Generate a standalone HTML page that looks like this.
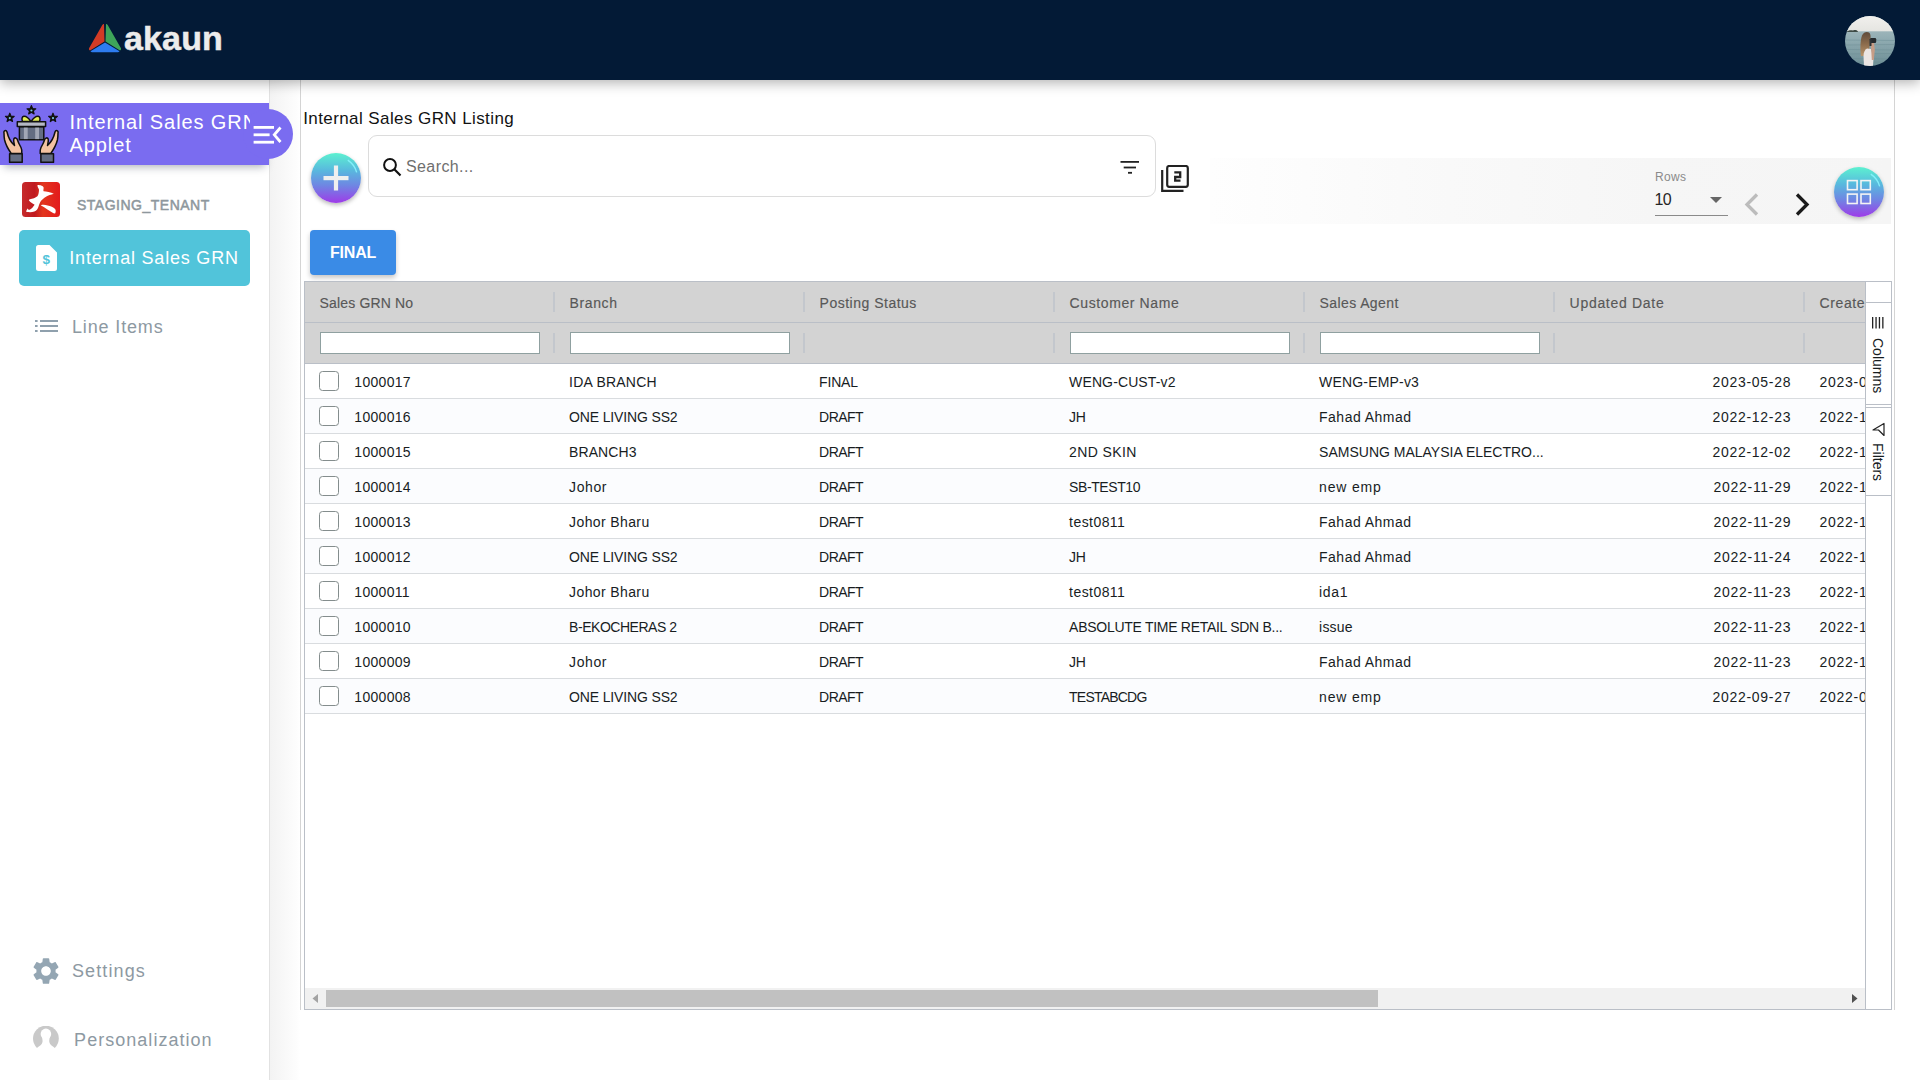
<!DOCTYPE html>
<html><head><meta charset="utf-8"><title>Internal Sales GRN Listing</title>
<style>
*{box-sizing:border-box;margin:0;padding:0}
html,body{width:1920px;height:1080px;overflow:hidden;background:#fff;font-family:"Liberation Sans", Arial, sans-serif}
.t{position:absolute;line-height:1;white-space:nowrap}
.a{position:absolute}
</style></head><body>
<div class="a" style="left:270px;top:80px;width:30px;height:1000px;background:linear-gradient(to right,#f3f3f3,#fdfdfd 90%,#fff)"></div>
<div class="a" style="left:300px;top:80px;width:1px;height:930px;background:#d4d4d4"></div>
<div class="a" style="left:1894px;top:80px;width:1px;height:930px;background:#d4d4d4"></div>
<div class="a" style="left:0;top:80px;width:269px;height:1000px;background:#fff"></div>
<div class="a" style="left:269px;top:80px;width:1px;height:1000px;background:#e2e2e2"></div>
<div class="a" style="left:0;top:103px;width:269px;height:62px;background:#7a6cf0;box-shadow:0 6px 8px -4px rgba(30,40,60,0.35)"></div>
<div class="a" style="left:243px;top:109px;width:50px;height:50px;border-radius:50%;background:#7a6cf0"></div>
<svg class="a" style="left:250px;top:122px" width="36" height="26" viewBox="0 0 36 26">
<rect x="3.6" y="4" width="20.4" height="2.8" fill="#fff"/>
<rect x="3.6" y="11.4" width="16" height="2.8" fill="#fff"/>
<rect x="3.6" y="18.8" width="20.4" height="2.8" fill="#fff"/>
<polyline points="30.5,5.5 24.3,12.8 30.5,20" fill="none" stroke="#fff" stroke-width="2.8"/>
</svg>
<div class="a" style="left:0;top:103px;width:250px;height:62px;overflow:hidden"><div class="t" style="left:69.5px;font-size:20px;color:#fff;letter-spacing:0.9px;line-height:23.3px;top:8.15px">Internal Sales GRN<br>Applet</div></div>
<svg class="a" style="left:2px;top:105px" width="58" height="58" viewBox="0 0 58 58">
<path d="M29.40,0.60 L30.58,3.58 L33.77,3.78 L31.30,5.82 L32.10,8.92 L29.40,7.20 L26.70,8.92 L27.50,5.82 L25.03,3.78 L28.22,3.58Z" fill="#111" stroke="#111" stroke-width="1.2" stroke-linejoin="round"/><circle cx="29.4" cy="5.5" r="1.1" fill="#7cc8e4"/><path d="M7.80,8.20 L8.98,11.18 L12.17,11.38 L9.70,13.42 L10.50,16.52 L7.80,14.80 L5.10,16.52 L5.90,13.42 L3.43,11.38 L6.62,11.18Z" fill="#111" stroke="#111" stroke-width="1.2" stroke-linejoin="round"/><circle cx="7.8" cy="13.100000000000001" r="1.1" fill="#7cc8e4"/><path d="M51.00,8.20 L52.18,11.18 L55.37,11.38 L52.90,13.42 L53.70,16.52 L51.00,14.80 L48.30,16.52 L49.10,13.42 L46.63,11.38 L49.82,11.18Z" fill="#111" stroke="#111" stroke-width="1.2" stroke-linejoin="round"/><circle cx="51" cy="13.100000000000001" r="1.1" fill="#7cc8e4"/>
<g stroke="#111" stroke-width="1.5" stroke-linejoin="round">
<path d="M29,16.6 C27,13.5 24.5,11 21.8,11.2 C19.8,11.5 19.6,14 20.5,16.6Z" fill="#e2ec55"/>
<path d="M29,16.6 C31,13.5 33.5,11 36.2,11.2 C38.2,11.5 38.4,14 37.5,16.6Z" fill="#e2ec55"/>
<rect x="17.4" y="21.8" width="24.4" height="13" fill="#646d82"/>
<rect x="15.3" y="16.8" width="28.3" height="4.6" fill="#b5b8c4"/>
</g>
<rect x="21.9" y="22.6" width="3.8" height="11.5" fill="#a2a7b6"/>
<rect x="33.2" y="22.6" width="3.8" height="11.5" fill="#a2a7b6"/>
<g stroke="#111" stroke-width="1.5" stroke-linejoin="round">
<path d="M2,28 C1.2,25.5 4.2,24.6 5,27 C6,31.5 8.5,37 12.5,40.5 C12,38 11.3,35.5 11.8,34 C12.4,32.3 14.8,32.6 15.3,34.5 C16,37 17,39 19,42.5 C20,44.5 20,46.5 19.8,48.5 L9.2,48.5 C7.5,46 4,41 2.6,35 C2.1,32.5 2,30 2,28Z" fill="#f4c3a1"/>
<path d="M2,28 C1.2,25.5 4.2,24.6 5,27 C6,31.5 8.5,37 12.5,40.5 C12,38 11.3,35.5 11.8,34 C12.4,32.3 14.8,32.6 15.3,34.5 C16,37 17,39 19,42.5 C20,44.5 20,46.5 19.8,48.5 L9.2,48.5 C7.5,46 4,41 2.6,35 C2.1,32.5 2,30 2,28Z" fill="#f4c3a1" transform="translate(58,0) scale(-1,1)"/>
<rect x="7.6" y="48.8" width="12.6" height="8.5" fill="#646d82"/>
<rect x="38.9" y="48.8" width="12.6" height="8.5" fill="#646d82"/>
</g>
</svg>
<svg class="a" style="left:22px;top:182px" width="38" height="35" viewBox="0 0 38 35">
<defs><linearGradient id="rg" x1="0" y1="0" x2="1" y2="0"><stop offset="0" stop-color="#c62b2c"/><stop offset="0.33" stop-color="#c0191f"/><stop offset="0.55" stop-color="#e2361e"/><stop offset="1" stop-color="#e31a1c"/></linearGradient></defs>
<rect x="0" y="0" width="38" height="35" rx="3.5" fill="url(#rg)"/>
<path d="M15.5,2.9 C18,2.8 21.5,3.6 21.6,5.6 C21.8,7 21,8.3 21.6,9.3 C24,9.6 29,10.2 31.8,11.8 C29,12.8 26,13.5 24.4,14.4 C21.5,16 19.5,18 18.3,20 C17.4,21.6 16.9,23.5 16.3,25.2 C15.7,27 14.6,28.4 12.4,29.6 C10,30.4 7,30.2 4.5,30 C4,29.4 4.2,28.6 5.7,26.6 L6.8,28 C8.6,27.4 10,26.3 10.8,25.2 C11.6,24.2 12.2,23.4 12.6,22.8 C10.5,21.5 8.2,20.4 7,18.6 C6.8,18 7,17.6 8,17.3 C10.5,16.8 13.6,16 15.4,14.3 C16.6,12.6 16.9,10.4 17,7.8 C16.9,6.3 15.2,5 15.5,2.9Z" fill="#fff"/>
<path d="M18.7,23.2 C20.8,22.6 23.3,22.8 25.6,23.4 C28.5,24.2 31.5,25 33.1,27 C33.9,28.2 34,30 33.1,31.4 C32.2,31.5 31.2,31 30.2,30.4 C28.6,29.4 27,28.6 25.4,27.4 C23.3,25.9 21,24.4 18.7,23.2Z" fill="#fff"/>
</svg>
<div class="t " style="left:77px;top:198.35px;font-size:14px;color:#8e979d;letter-spacing:0.5px;-webkit-text-stroke:0.5px #8e979d;">STAGING_TENANT</div>
<div class="a" style="left:19px;top:230px;width:231px;height:56px;border-radius:5px;background:#51c4da"></div>
<svg class="a" style="left:36px;top:245px" width="21" height="26" viewBox="0 0 21 26">
<path d="M2.5,0 H13.5 L21,7.5 V23.5 A2.5,2.5 0 0 1 18.5,26 H2.5 A2.5,2.5 0 0 1 0,23.5 V2.5 A2.5,2.5 0 0 1 2.5,0Z" fill="#fff"/>
<text x="10.3" y="18.6" font-family="Liberation Sans, sans-serif" font-weight="700" font-size="13.5" fill="#51c4da" text-anchor="middle">$</text>
</svg>
<div class="t " style="left:69.3px;top:248.76px;font-size:18px;color:#fff;letter-spacing:0.8px;">Internal Sales GRN</div>
<svg class="a" style="left:35px;top:320px" width="23" height="12" viewBox="0 0 23 12">
<g fill="#8fa0ad"><rect x="0" y="0" width="2.6" height="2"/><rect x="5" y="0" width="18" height="2"/>
<rect x="0" y="5" width="2.6" height="2"/><rect x="5" y="5" width="18" height="2"/>
<rect x="0" y="10" width="2.6" height="2"/><rect x="5" y="10" width="18" height="2"/></g>
</svg>
<div class="t " style="left:72px;top:317.86px;font-size:18px;color:#8d99a2;letter-spacing:0.85px;">Line Items</div>
<svg class="a" style="left:30.3px;top:955px" width="32" height="32" viewBox="0 0 24 24">
<path fill="#94a6b3" d="M19.14,12.94c0.04-0.3,0.06-0.61,0.06-0.94c0-0.32-0.02-0.64-0.07-0.94l2.03-1.58c0.18-0.14,0.23-0.41,0.12-0.61 l-1.92-3.32c-0.12-0.22-0.37-0.29-0.59-0.22l-2.39,0.96c-0.5-0.38-1.03-0.7-1.62-0.94L14.4,2.81c-0.04-0.24-0.24-0.41-0.48-0.41 h-3.84c-0.24,0-0.43,0.17-0.47,0.41L9.25,5.35C8.66,5.59,8.12,5.92,7.63,6.29L5.24,5.33c-0.22-0.08-0.47,0-0.59,0.22L2.74,8.87 C2.62,9.08,2.66,9.34,2.86,9.48l2.03,1.58C4.84,11.36,4.8,11.69,4.8,12s0.02,0.64,0.07,0.94l-2.03,1.58 c-0.18,0.14-0.23,0.41-0.12,0.61l1.92,3.32c0.12,0.22,0.37,0.29,0.59,0.22l2.39-0.96c0.5,0.38,1.03,0.7,1.62,0.94l0.36,2.54 c0.05,0.24,0.24,0.41,0.48,0.41h3.84c0.24,0,0.44-0.17,0.47-0.41l0.36-2.54c0.59-0.24,1.13-0.56,1.62-0.94l2.39,0.96 c0.22,0.08,0.47,0,0.59-0.22l1.92-3.32c0.12-0.22,0.07-0.47-0.12-0.61L19.14,12.94z M12,15.6c-1.98,0-3.6-1.62-3.6-3.6 s1.62-3.6,3.6-3.6s3.6,1.62,3.6,3.6S13.98,15.6,12,15.6z"/>
</svg>
<div class="t " style="left:72px;top:962.06px;font-size:18px;color:#8d99a2;letter-spacing:1.1px;">Settings</div>
<svg class="a" style="left:33px;top:1026px" width="26" height="27" viewBox="0 0 26 27">
<circle cx="12.9" cy="12.6" r="12.9" fill="#c9c9c9"/>
<circle cx="12.9" cy="7.9" r="5.3" fill="#fff"/>
<path d="M3.6,22.2 C6,20.4 9,18.8 9.5,16 C9.7,14 9.3,12.8 9,11 L16.8,11 C16.5,12.8 16.1,14 16.3,16 C16.8,18.8 19.8,20.4 22.2,22.2 L22.2,27 L3.6,27Z" fill="#fff"/>
</svg>
<div class="t " style="left:74.1px;top:1030.86px;font-size:18px;color:#8d99a2;letter-spacing:1.03px;">Personalization</div>
<div class="a" style="left:0;top:0;width:1920px;height:80px;background:#031a36;box-shadow:0 3px 12px rgba(0,0,0,0.30);z-index:5"></div>
<svg class="a" style="left:88px;top:23px;z-index:6" width="34" height="30" viewBox="0 0 34 30">
<path d="M16,1 L16.5,18.5 L2,27.5 C1,27 0.6,26 1.2,25 L14,2.5 C14.5,1.5 15.3,1 16,1Z" fill="#d23b25"/>
<path d="M18,1 L17.5,18.5 L32,27.5 C33,27 33.4,26 32.8,25 L20,2.5 C19.5,1.5 18.7,1 18,1Z" fill="#3ea559"/>
<path d="M17,19.5 L31.5,28.2 C31,29 30.2,29.3 29.5,29.3 L4.5,29.3 C3.8,29.3 3,29 2.5,28.2Z" fill="#2e7cf0"/>
</svg>
<div class="t" style="left:124px;top:21.02px;font-size:34px;font-weight:700;color:#ececec;letter-spacing:0.15px;-webkit-text-stroke:0.5px #ececec;z-index:6">akaun</div>
<svg class="a" style="left:1845px;top:16px;z-index:6" width="50" height="50" viewBox="0 0 50 50">
<defs><clipPath id="av"><circle cx="25" cy="25" r="25"/></clipPath>
<linearGradient id="sea" x1="0" y1="0" x2="0" y2="1"><stop offset="0" stop-color="#b2c4c8"/><stop offset="0.5" stop-color="#8eaab0"/><stop offset="1" stop-color="#6d8e95"/></linearGradient>
<linearGradient id="sky" x1="0" y1="0" x2="0" y2="1"><stop offset="0" stop-color="#f1f0ed"/><stop offset="1" stop-color="#e5e5e1"/></linearGradient>
<linearGradient id="hair" x1="0" y1="0" x2="0" y2="1"><stop offset="0" stop-color="#5e4a3a"/><stop offset="0.5" stop-color="#8c6c4c"/><stop offset="1" stop-color="#b8946a"/></linearGradient></defs>
<g clip-path="url(#av)">
<rect width="50" height="50" fill="url(#sea)"/>
<g stroke="#6a8a92" stroke-width="0.8" opacity="0.55"><line x1="0" y1="24" x2="50" y2="24.5"/><line x1="0" y1="29" x2="50" y2="28.5"/><line x1="0" y1="33.5" x2="50" y2="34"/><line x1="0" y1="38" x2="50" y2="37.5"/><line x1="0" y1="42.5" x2="50" y2="43"/><line x1="0" y1="46.5" x2="50" y2="46"/></g>
<rect width="50" height="15.3" fill="url(#sky)"/>
<path d="M1.5,16 C3,14.2 6,13.8 8,14.5 C10,13.6 12.5,14 13,16Z" fill="#3e4b46"/>
<path d="M16,40 C15,34 15.2,24 17,19.5 C18.5,16 22,15.2 24,16.5 C25.5,17.5 25.8,20 25.5,23 L24.5,31 L23,40Z" fill="url(#hair)"/>
<path d="M19,50 L18.5,40 C18.5,36 20,33.5 22,32.5 L26,33 L28.5,42 L28,50Z" fill="#ebe5e3"/>
<path d="M25.5,26.5 L29,26 L29.8,34 L28.8,44 L26.8,44 L26.2,34Z" fill="#c79d86"/>
<rect x="25" y="22" width="6.2" height="5" rx="1.2" fill="#262b2e"/>
<rect x="24.5" y="23" width="2" height="7" fill="#2f3436"/>
</g></svg>
<div class="t " style="left:303.2px;top:109.86px;font-size:17px;color:#121212;letter-spacing:0.41px;">Internal Sales GRN Listing</div>
<div class="a" style="left:311px;top:153px;width:50px;height:50px;border-radius:50%;background:linear-gradient(to bottom,#5cf1d0 0%,#59b8de 35%,#6f86e3 65%,#9e3be8 100%);box-shadow:0 2px 4px rgba(0,0,0,0.28)"></div>
<svg class="a" style="left:311px;top:153px" width="50" height="50" viewBox="0 0 50 50">
<rect x="12.5" y="23" width="25" height="4.2" fill="#efefef"/><rect x="22.9" y="12.5" width="4.2" height="25" fill="#efefef"/>
<path d="M36.8,7.1 A21.4,21.4 0 0 1 45.7,19.4" fill="none" stroke="rgba(140,245,255,0.85)" stroke-width="1.4"/>
</svg>
<div class="a" style="left:368px;top:135px;width:788px;height:62px;border:1px solid #dcdcdc;border-radius:9px;background:#fff"></div>
<svg class="a" style="left:382px;top:157px" width="21" height="21" viewBox="0 0 21 21">
<circle cx="8" cy="8" r="5.9" fill="none" stroke="#111" stroke-width="2"/>
<line x1="12.3" y1="12.3" x2="18.5" y2="18.5" stroke="#111" stroke-width="2.2"/>
</svg>
<div class="t " style="left:406px;top:159.26px;font-size:16px;color:#6f6f6f;letter-spacing:0.4px;">Search...</div>
<svg class="a" style="left:1120px;top:160px" width="20" height="15" viewBox="0 0 20 15">
<rect x="0.5" y="1" width="18.5" height="1.8" fill="#222"/><rect x="3.7" y="6.6" width="12.3" height="1.8" fill="#222"/><rect x="8" y="11.9" width="4" height="1.8" fill="#222"/>
</svg>
<svg class="a" style="left:1161px;top:165px" width="28" height="28" viewBox="0 0 28 28">
<path d="M1.2,5 V25.8 H22.5" fill="none" stroke="#222" stroke-width="2.2"/>
<rect x="6.2" y="1" width="20.6" height="20.8" rx="2" fill="none" stroke="#222" stroke-width="2.2"/>
<path d="M13.3,7.3 H19.2 V12 H14.2 V15.6 H19.5" fill="none" stroke="#222" stroke-width="2.3"/>
</svg>
<div class="a" style="left:1210px;top:158px;width:681px;height:66px;background:linear-gradient(to right,#fefefe,#f9f9f9 35%,#f6f6f6 65%,#f5f5f5)"></div>
<div class="t " style="left:1655px;top:170.64px;font-size:12px;color:#8a8a8a;letter-spacing:0.3px;">Rows</div>
<div class="t " style="left:1654.5px;top:191.96px;font-size:16px;color:#262626;letter-spacing:-0.6px;">10</div>
<svg class="a" style="left:1709px;top:196px" width="14" height="8" viewBox="0 0 14 8"><path d="M1,1 H13 L7,7Z" fill="#666"/></svg>
<div class="a" style="left:1655px;top:215px;width:73px;height:1px;background:#8a8a8a"></div>
<svg class="a" style="left:1742px;top:192px" width="20" height="26" viewBox="0 0 20 26"><polyline points="15,2.5 5,12.5 15,22.5" fill="none" stroke="#bcbcbc" stroke-width="3.3"/></svg>
<svg class="a" style="left:1792px;top:192px" width="20" height="26" viewBox="0 0 20 26"><polyline points="5,2.5 15,12.5 5,22.5" fill="none" stroke="#1a1a1a" stroke-width="3.3"/></svg>
<div class="a" style="left:1834px;top:167px;width:50px;height:50px;border-radius:50%;background:linear-gradient(to bottom,#5cf1d0 0%,#59b8de 35%,#6f86e3 65%,#9e3be8 100%);box-shadow:0 2px 4px rgba(0,0,0,0.25)"></div>
<svg class="a" style="left:1834px;top:167px" width="50" height="50" viewBox="0 0 50 50">
<g fill="none" stroke="#f4f4f4" stroke-width="1.6"><rect x="13.5" y="13.6" width="9.6" height="9.1"/><rect x="27" y="13.6" width="9.3" height="9.1"/><rect x="13.5" y="27.1" width="9.6" height="9.4"/><rect x="27" y="27.1" width="9.3" height="9.4"/></g>
<path d="M36.8,7.1 A21.4,21.4 0 0 1 45.7,19.4" fill="none" stroke="rgba(140,245,255,0.85)" stroke-width="1.4"/>
</svg>
<div class="a" style="left:310px;top:230px;width:86px;height:45px;border-radius:4px;background:#3a8be6;box-shadow:0 3px 5px rgba(0,0,0,0.22)"></div>
<div class="t " style="left:330px;top:245.21px;font-size:16px;color:#fff;font-weight:700;letter-spacing:-0.2px;">FINAL</div>
<div class="a" style="left:304px;top:281px;width:1588px;height:729px;border:1px solid #babfc7;background:#fff"></div>
<div class="a" style="left:305px;top:282px;width:1560px;height:81px;background:#d3d3d3"></div>
<div class="a" style="left:305px;top:322px;width:1560px;height:1px;background:#babfc7"></div>
<div class="a" style="left:305px;top:363px;width:1560px;height:1px;background:#babfc7"></div>
<div class="a" style="left:305px;top:282px;width:1560px;height:728px;overflow:hidden">
<div class="t " style="left:14.6px;top:14.25px;font-size:14px;color:#585858;letter-spacing:0.15px;-webkit-text-stroke:0.15px #585858;">Sales GRN No</div>
<div class="a" style="left:248px;top:10px;width:2px;height:20px;background:#c3c7cd"></div><div class="a" style="left:248px;top:51px;width:2px;height:20px;background:#c3c7cd"></div>
<div class="a" style="left:15px;top:50px;width:220px;height:22px;border:1px solid #8fa0a0;background:#fff"></div>
<div class="t " style="left:264.6px;top:14.25px;font-size:14px;color:#585858;letter-spacing:0.6px;-webkit-text-stroke:0.15px #585858;">Branch</div>
<div class="a" style="left:498px;top:10px;width:2px;height:20px;background:#c3c7cd"></div><div class="a" style="left:498px;top:51px;width:2px;height:20px;background:#c3c7cd"></div>
<div class="a" style="left:265px;top:50px;width:220px;height:22px;border:1px solid #8fa0a0;background:#fff"></div>
<div class="t " style="left:514.6px;top:14.25px;font-size:14px;color:#585858;letter-spacing:0.5px;-webkit-text-stroke:0.15px #585858;">Posting Status</div>
<div class="a" style="left:748px;top:10px;width:2px;height:20px;background:#c3c7cd"></div><div class="a" style="left:748px;top:51px;width:2px;height:20px;background:#c3c7cd"></div>
<div class="t " style="left:764.6px;top:14.25px;font-size:14px;color:#585858;letter-spacing:0.6px;-webkit-text-stroke:0.15px #585858;">Customer Name</div>
<div class="a" style="left:998px;top:10px;width:2px;height:20px;background:#c3c7cd"></div><div class="a" style="left:998px;top:51px;width:2px;height:20px;background:#c3c7cd"></div>
<div class="a" style="left:765px;top:50px;width:220px;height:22px;border:1px solid #8fa0a0;background:#fff"></div>
<div class="t " style="left:1014.6px;top:14.25px;font-size:14px;color:#585858;letter-spacing:0.4px;-webkit-text-stroke:0.15px #585858;">Sales Agent</div>
<div class="a" style="left:1248px;top:10px;width:2px;height:20px;background:#c3c7cd"></div><div class="a" style="left:1248px;top:51px;width:2px;height:20px;background:#c3c7cd"></div>
<div class="a" style="left:1015px;top:50px;width:220px;height:22px;border:1px solid #8fa0a0;background:#fff"></div>
<div class="t " style="left:1264.6px;top:14.25px;font-size:14px;color:#585858;letter-spacing:0.7px;-webkit-text-stroke:0.15px #585858;">Updated Date</div>
<div class="a" style="left:1498px;top:10px;width:2px;height:20px;background:#c3c7cd"></div><div class="a" style="left:1498px;top:51px;width:2px;height:20px;background:#c3c7cd"></div>
<div class="t " style="left:1514.6px;top:14.25px;font-size:14px;color:#585858;letter-spacing:0.6px;-webkit-text-stroke:0.15px #585858;">Created Date</div>
<div class="a" style="left:0;top:82px;width:1560px;height:34px;background:#fff"></div><div class="a" style="left:0;top:116px;width:1560px;height:1px;background:#d9dcdf"></div>
<div class="a" style="left:14px;top:89px;width:20px;height:20px;border:1.6px solid #848d8d;border-radius:3.5px;background:#fff"></div><div class="t " style="left:49.3px;top:92.95px;font-size:14px;color:#181d1f;letter-spacing:0.3px;">1000017</div>
<div class="t " style="left:264.1px;top:92.95px;font-size:14px;color:#181d1f;letter-spacing:0.22px;">IDA BRANCH</div>
<div class="t " style="left:514.1px;top:92.95px;font-size:14px;color:#181d1f;letter-spacing:-0.18px;">FINAL</div>
<div class="t " style="left:764.1px;top:92.95px;font-size:14px;color:#181d1f;letter-spacing:0.12px;">WENG-CUST-v2</div>
<div class="t " style="left:1014.1px;top:92.95px;font-size:14px;color:#181d1f;letter-spacing:0.18px;">WENG-EMP-v3</div>
<div class="t" style="left:1250px;width:236.3px;text-align:right;top:92.95px;font-size:14px;color:#181d1f;letter-spacing:0.73px">2023-05-28</div><div class="t " style="left:1514.5px;top:92.95px;font-size:14px;color:#181d1f;letter-spacing:0.73px;">2023-0</div>

<div class="a" style="left:0;top:117px;width:1560px;height:34px;background:#fbfcfe"></div><div class="a" style="left:0;top:151px;width:1560px;height:1px;background:#d9dcdf"></div>
<div class="a" style="left:14px;top:124px;width:20px;height:20px;border:1.6px solid #848d8d;border-radius:3.5px;background:#fff"></div><div class="t " style="left:49.3px;top:127.95px;font-size:14px;color:#181d1f;letter-spacing:0.3px;">1000016</div>
<div class="t " style="left:264.1px;top:127.95px;font-size:14px;color:#181d1f;letter-spacing:-0.15px;">ONE LIVING SS2</div>
<div class="t " style="left:514.1px;top:127.95px;font-size:14px;color:#181d1f;letter-spacing:-0.55px;">DRAFT</div>
<div class="t " style="left:764.1px;top:127.95px;font-size:14px;color:#181d1f;letter-spacing:-0.4px;">JH</div>
<div class="t " style="left:1014.1px;top:127.95px;font-size:14px;color:#181d1f;letter-spacing:0.47px;">Fahad Ahmad</div>
<div class="t" style="left:1250px;width:236.3px;text-align:right;top:127.95px;font-size:14px;color:#181d1f;letter-spacing:0.73px">2022-12-23</div><div class="t " style="left:1514.5px;top:127.95px;font-size:14px;color:#181d1f;letter-spacing:0.73px;">2022-1</div>

<div class="a" style="left:0;top:152px;width:1560px;height:34px;background:#fff"></div><div class="a" style="left:0;top:186px;width:1560px;height:1px;background:#d9dcdf"></div>
<div class="a" style="left:14px;top:159px;width:20px;height:20px;border:1.6px solid #848d8d;border-radius:3.5px;background:#fff"></div><div class="t " style="left:49.3px;top:162.95px;font-size:14px;color:#181d1f;letter-spacing:0.3px;">1000015</div>
<div class="t " style="left:264.1px;top:162.95px;font-size:14px;color:#181d1f;letter-spacing:0.08px;">BRANCH3</div>
<div class="t " style="left:514.1px;top:162.95px;font-size:14px;color:#181d1f;letter-spacing:-0.55px;">DRAFT</div>
<div class="t " style="left:764.1px;top:162.95px;font-size:14px;color:#181d1f;letter-spacing:0.4px;">2ND SKIN</div>
<div class="t " style="left:1014.1px;top:162.95px;font-size:14px;color:#181d1f;letter-spacing:0.0px;">SAMSUNG MALAYSIA ELECTRO...</div>
<div class="t" style="left:1250px;width:236.3px;text-align:right;top:162.95px;font-size:14px;color:#181d1f;letter-spacing:0.73px">2022-12-02</div><div class="t " style="left:1514.5px;top:162.95px;font-size:14px;color:#181d1f;letter-spacing:0.73px;">2022-1</div>

<div class="a" style="left:0;top:187px;width:1560px;height:34px;background:#fbfcfe"></div><div class="a" style="left:0;top:221px;width:1560px;height:1px;background:#d9dcdf"></div>
<div class="a" style="left:14px;top:194px;width:20px;height:20px;border:1.6px solid #848d8d;border-radius:3.5px;background:#fff"></div><div class="t " style="left:49.3px;top:197.95px;font-size:14px;color:#181d1f;letter-spacing:0.3px;">1000014</div>
<div class="t " style="left:264.1px;top:197.95px;font-size:14px;color:#181d1f;letter-spacing:0.57px;">Johor</div>
<div class="t " style="left:514.1px;top:197.95px;font-size:14px;color:#181d1f;letter-spacing:-0.55px;">DRAFT</div>
<div class="t " style="left:764.1px;top:197.95px;font-size:14px;color:#181d1f;letter-spacing:-0.41px;">SB-TEST10</div>
<div class="t " style="left:1014.1px;top:197.95px;font-size:14px;color:#181d1f;letter-spacing:0.82px;">new emp</div>
<div class="t" style="left:1250px;width:236.3px;text-align:right;top:197.95px;font-size:14px;color:#181d1f;letter-spacing:0.73px">2022-11-29</div><div class="t " style="left:1514.5px;top:197.95px;font-size:14px;color:#181d1f;letter-spacing:0.73px;">2022-1</div>

<div class="a" style="left:0;top:222px;width:1560px;height:34px;background:#fff"></div><div class="a" style="left:0;top:256px;width:1560px;height:1px;background:#d9dcdf"></div>
<div class="a" style="left:14px;top:229px;width:20px;height:20px;border:1.6px solid #848d8d;border-radius:3.5px;background:#fff"></div><div class="t " style="left:49.3px;top:232.95px;font-size:14px;color:#181d1f;letter-spacing:0.3px;">1000013</div>
<div class="t " style="left:264.1px;top:232.95px;font-size:14px;color:#181d1f;letter-spacing:0.38px;">Johor Bharu</div>
<div class="t " style="left:514.1px;top:232.95px;font-size:14px;color:#181d1f;letter-spacing:-0.55px;">DRAFT</div>
<div class="t " style="left:764.1px;top:232.95px;font-size:14px;color:#181d1f;letter-spacing:0.44px;">test0811</div>
<div class="t " style="left:1014.1px;top:232.95px;font-size:14px;color:#181d1f;letter-spacing:0.47px;">Fahad Ahmad</div>
<div class="t" style="left:1250px;width:236.3px;text-align:right;top:232.95px;font-size:14px;color:#181d1f;letter-spacing:0.73px">2022-11-29</div><div class="t " style="left:1514.5px;top:232.95px;font-size:14px;color:#181d1f;letter-spacing:0.73px;">2022-1</div>

<div class="a" style="left:0;top:257px;width:1560px;height:34px;background:#fbfcfe"></div><div class="a" style="left:0;top:291px;width:1560px;height:1px;background:#d9dcdf"></div>
<div class="a" style="left:14px;top:264px;width:20px;height:20px;border:1.6px solid #848d8d;border-radius:3.5px;background:#fff"></div><div class="t " style="left:49.3px;top:267.95px;font-size:14px;color:#181d1f;letter-spacing:0.3px;">1000012</div>
<div class="t " style="left:264.1px;top:267.95px;font-size:14px;color:#181d1f;letter-spacing:-0.15px;">ONE LIVING SS2</div>
<div class="t " style="left:514.1px;top:267.95px;font-size:14px;color:#181d1f;letter-spacing:-0.55px;">DRAFT</div>
<div class="t " style="left:764.1px;top:267.95px;font-size:14px;color:#181d1f;letter-spacing:-0.4px;">JH</div>
<div class="t " style="left:1014.1px;top:267.95px;font-size:14px;color:#181d1f;letter-spacing:0.47px;">Fahad Ahmad</div>
<div class="t" style="left:1250px;width:236.3px;text-align:right;top:267.95px;font-size:14px;color:#181d1f;letter-spacing:0.73px">2022-11-24</div><div class="t " style="left:1514.5px;top:267.95px;font-size:14px;color:#181d1f;letter-spacing:0.73px;">2022-1</div>

<div class="a" style="left:0;top:292px;width:1560px;height:34px;background:#fff"></div><div class="a" style="left:0;top:326px;width:1560px;height:1px;background:#d9dcdf"></div>
<div class="a" style="left:14px;top:299px;width:20px;height:20px;border:1.6px solid #848d8d;border-radius:3.5px;background:#fff"></div><div class="t " style="left:49.3px;top:302.95px;font-size:14px;color:#181d1f;letter-spacing:0.3px;">1000011</div>
<div class="t " style="left:264.1px;top:302.95px;font-size:14px;color:#181d1f;letter-spacing:0.38px;">Johor Bharu</div>
<div class="t " style="left:514.1px;top:302.95px;font-size:14px;color:#181d1f;letter-spacing:-0.55px;">DRAFT</div>
<div class="t " style="left:764.1px;top:302.95px;font-size:14px;color:#181d1f;letter-spacing:0.44px;">test0811</div>
<div class="t " style="left:1014.1px;top:302.95px;font-size:14px;color:#181d1f;letter-spacing:0.63px;">ida1</div>
<div class="t" style="left:1250px;width:236.3px;text-align:right;top:302.95px;font-size:14px;color:#181d1f;letter-spacing:0.73px">2022-11-23</div><div class="t " style="left:1514.5px;top:302.95px;font-size:14px;color:#181d1f;letter-spacing:0.73px;">2022-1</div>

<div class="a" style="left:0;top:327px;width:1560px;height:34px;background:#fbfcfe"></div><div class="a" style="left:0;top:361px;width:1560px;height:1px;background:#d9dcdf"></div>
<div class="a" style="left:14px;top:334px;width:20px;height:20px;border:1.6px solid #848d8d;border-radius:3.5px;background:#fff"></div><div class="t " style="left:49.3px;top:337.95px;font-size:14px;color:#181d1f;letter-spacing:0.3px;">1000010</div>
<div class="t " style="left:264.1px;top:337.95px;font-size:14px;color:#181d1f;letter-spacing:-0.47px;">B-EKOCHERAS 2</div>
<div class="t " style="left:514.1px;top:337.95px;font-size:14px;color:#181d1f;letter-spacing:-0.55px;">DRAFT</div>
<div class="t " style="left:764.1px;top:337.95px;font-size:14px;color:#181d1f;letter-spacing:-0.28px;">ABSOLUTE TIME RETAIL SDN B...</div>
<div class="t " style="left:1014.1px;top:337.95px;font-size:14px;color:#181d1f;letter-spacing:0.2px;">issue</div>
<div class="t" style="left:1250px;width:236.3px;text-align:right;top:337.95px;font-size:14px;color:#181d1f;letter-spacing:0.73px">2022-11-23</div><div class="t " style="left:1514.5px;top:337.95px;font-size:14px;color:#181d1f;letter-spacing:0.73px;">2022-1</div>

<div class="a" style="left:0;top:362px;width:1560px;height:34px;background:#fff"></div><div class="a" style="left:0;top:396px;width:1560px;height:1px;background:#d9dcdf"></div>
<div class="a" style="left:14px;top:369px;width:20px;height:20px;border:1.6px solid #848d8d;border-radius:3.5px;background:#fff"></div><div class="t " style="left:49.3px;top:372.95px;font-size:14px;color:#181d1f;letter-spacing:0.3px;">1000009</div>
<div class="t " style="left:264.1px;top:372.95px;font-size:14px;color:#181d1f;letter-spacing:0.57px;">Johor</div>
<div class="t " style="left:514.1px;top:372.95px;font-size:14px;color:#181d1f;letter-spacing:-0.55px;">DRAFT</div>
<div class="t " style="left:764.1px;top:372.95px;font-size:14px;color:#181d1f;letter-spacing:-0.4px;">JH</div>
<div class="t " style="left:1014.1px;top:372.95px;font-size:14px;color:#181d1f;letter-spacing:0.47px;">Fahad Ahmad</div>
<div class="t" style="left:1250px;width:236.3px;text-align:right;top:372.95px;font-size:14px;color:#181d1f;letter-spacing:0.73px">2022-11-23</div><div class="t " style="left:1514.5px;top:372.95px;font-size:14px;color:#181d1f;letter-spacing:0.73px;">2022-1</div>

<div class="a" style="left:0;top:397px;width:1560px;height:34px;background:#fbfcfe"></div><div class="a" style="left:0;top:431px;width:1560px;height:1px;background:#d9dcdf"></div>
<div class="a" style="left:14px;top:404px;width:20px;height:20px;border:1.6px solid #848d8d;border-radius:3.5px;background:#fff"></div><div class="t " style="left:49.3px;top:407.95px;font-size:14px;color:#181d1f;letter-spacing:0.3px;">1000008</div>
<div class="t " style="left:264.1px;top:407.95px;font-size:14px;color:#181d1f;letter-spacing:-0.15px;">ONE LIVING SS2</div>
<div class="t " style="left:514.1px;top:407.95px;font-size:14px;color:#181d1f;letter-spacing:-0.55px;">DRAFT</div>
<div class="t " style="left:764.1px;top:407.95px;font-size:14px;color:#181d1f;letter-spacing:-0.79px;">TESTABCDG</div>
<div class="t " style="left:1014.1px;top:407.95px;font-size:14px;color:#181d1f;letter-spacing:0.82px;">new emp</div>
<div class="t" style="left:1250px;width:236.3px;text-align:right;top:407.95px;font-size:14px;color:#181d1f;letter-spacing:0.73px">2022-09-27</div><div class="t " style="left:1514.5px;top:407.95px;font-size:14px;color:#181d1f;letter-spacing:0.73px;">2022-0</div>

</div>
<div class="a" style="left:1865px;top:282px;width:1px;height:727px;background:#babfc7"></div>
<div class="a" style="left:1866px;top:282px;width:25px;height:727px;background:#fff"></div>
<div class="a" style="left:1866px;top:302px;width:25px;height:1px;background:#babfc7"></div>
<div class="a" style="left:1866px;top:404px;width:25px;height:1px;background:#babfc7"></div>
<div class="a" style="left:1866px;top:407px;width:25px;height:1px;background:#babfc7"></div>
<div class="a" style="left:1866px;top:495px;width:25px;height:1px;background:#babfc7"></div>
<svg class="a" style="left:1870px;top:316px" width="17" height="14" viewBox="0 0 17 14">
<g fill="#222"><rect x="2" y="1" width="1.3" height="11.5"/><rect x="5.4" y="1" width="1.3" height="11.5"/><rect x="8.8" y="1" width="1.3" height="11.5"/><rect x="12.2" y="1" width="1.3" height="11.5"/></g></svg>
<div class="t" style="left:1871px;top:338px;font-size:14px;color:#181d1f;writing-mode:vertical-rl">Columns</div>
<svg class="a" style="left:1870px;top:422px" width="17" height="16" viewBox="0 0 17 16">
<path d="M2.5,2 L14.5,2 L9,7.5 L9,13 Z" fill="none" stroke="#222" stroke-width="1.2" stroke-linejoin="round" transform="rotate(90 8.5 7.5)"/></svg>
<div class="t" style="left:1871px;top:443px;font-size:14px;color:#181d1f;writing-mode:vertical-rl">Filters</div>
<div class="a" style="left:305px;top:988px;width:1560px;height:21px;background:#f1f1f1"></div>
<div class="a" style="left:326px;top:990px;width:1052px;height:17px;background:#c1c1c1"></div>
<svg class="a" style="left:311px;top:993px" width="9" height="11" viewBox="0 0 9 11"><path d="M7,1 V10 L1.5,5.5Z" fill="#a3a3a3"/></svg>
<svg class="a" style="left:1850px;top:993px" width="9" height="11" viewBox="0 0 9 11"><path d="M2,1 V10 L7.5,5.5Z" fill="#505050"/></svg>
</body></html>
